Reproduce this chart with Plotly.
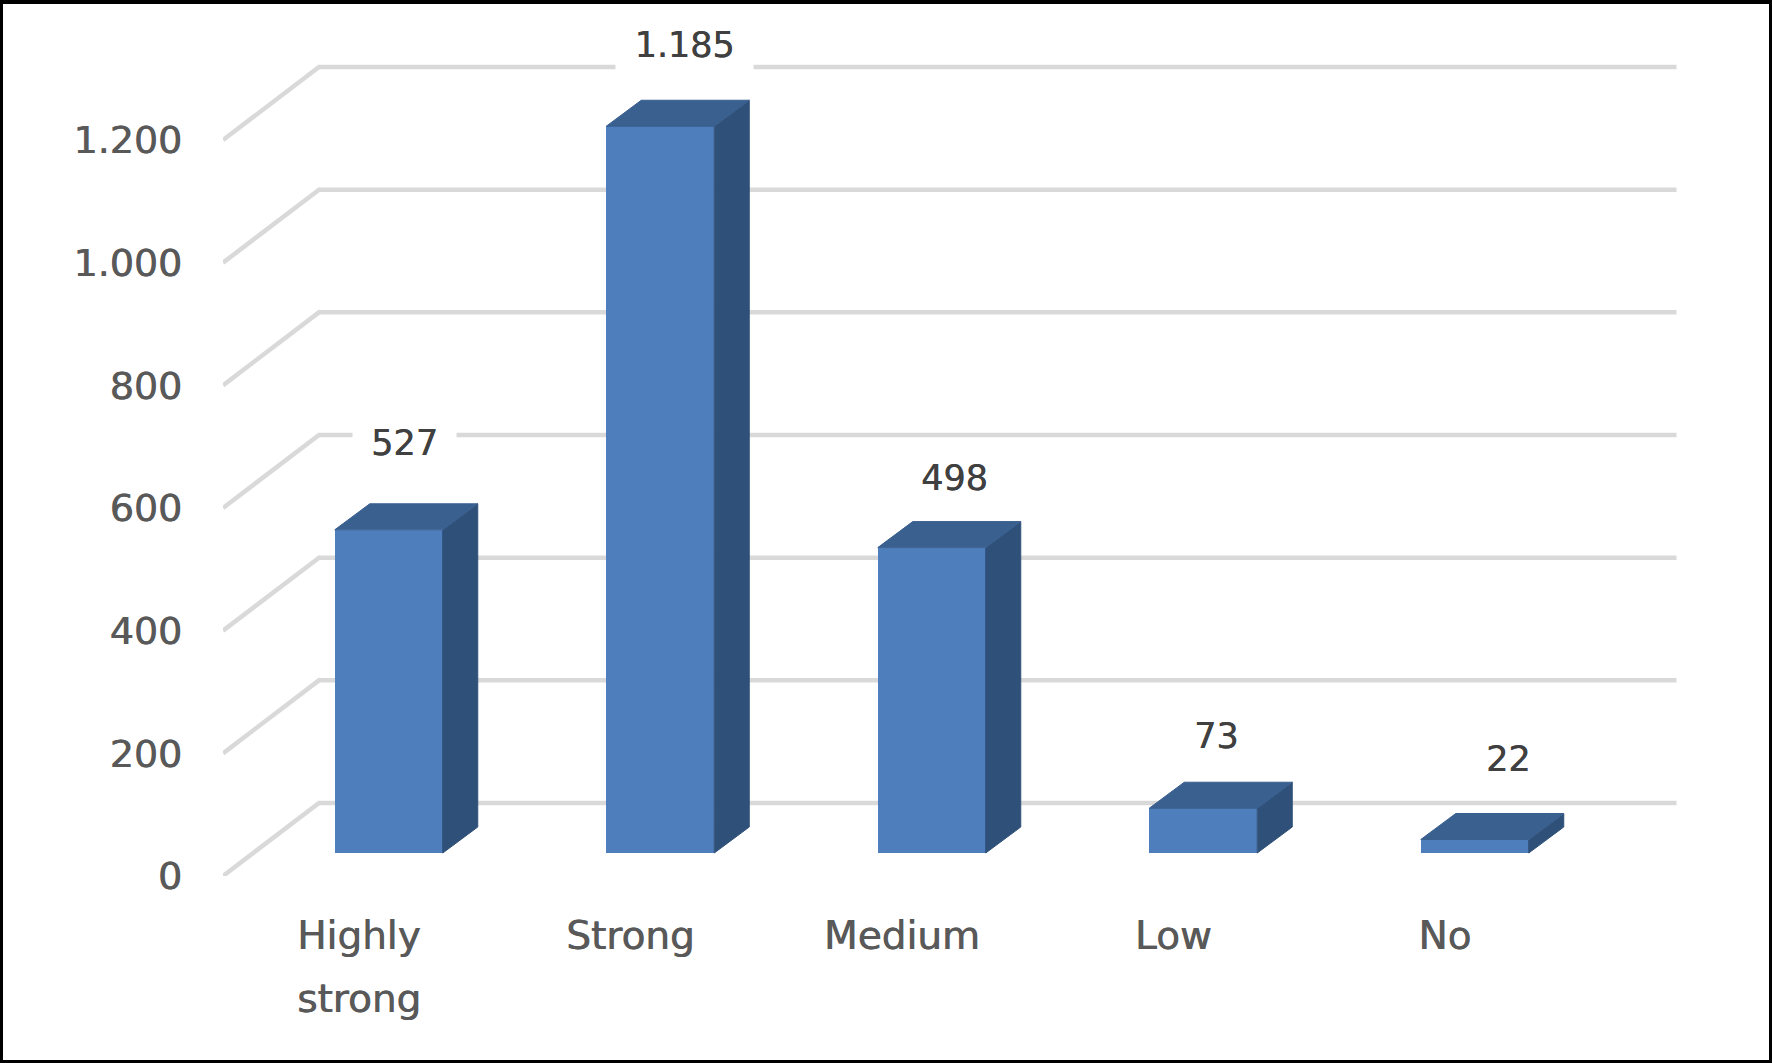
import plotly.graph_objects as go

# data
categories = ["Highly", "Strong", "Medium", "Low", "No"]
second_line = ["strong", "", "", "", ""]
values = [527, 1185, 498, 73, 22]
value_labels = ["527", "1.185", "498", "73", "22"]
y_ticks = [0, 200, 400, 600, 800, 1000, 1200]
y_tick_labels = ["0", "200", "400", "600", "800", "1.000", "1.200"]

# layout geometry, in pixels
W, H = 1772, 1063
left, floor, right, top = 223, 876, 1700, 6
px_x = 271.5      # pixels per category
px_y = 0.6133     # pixels per value unit
wall_px = (96, 73)
bar_front_px = (30, 23)
bar_depth_px = (35, 26)
bar_w_px = 108
label_dx_px = [16, 24, 23, 13, 34]
label_up_px = [87, 81, 70, 72, 81]
label_box_w = [101, 135, 0, 0, 0]

# colours
C_FRONT, C_TOP, C_SIDE = "#4E7EBB", "#3A6090", "#2F5078"
C_GRID, C_TICK, C_LABEL = "#D9D9D9", "#595959", "#404040"
FONT = "DejaVu Sans"
FS_Y, FS_X, FS_LABEL = 38, 39, 35
SHADOW_TICK = "0.7px 0 0.6px #595959"
SHADOW_LABEL = "0.5px 0 0.5px #404040"

wx, wy = wall_px[0] / px_x, wall_px[1] / px_y
ox, oy = bar_front_px[0] / px_x, bar_front_px[1] / px_y
dx, dy = bar_depth_px[0] / px_x, bar_depth_px[1] / px_y
bw = bar_w_px / px_x
n = len(categories)

fig = go.Figure()

# 3D wall gridlines, on the main axes so the bars on the overlay cover them
for v in y_ticks:
    fig.add_trace(go.Scatter(
        x=[0, wx, n + wx], y=[v, v + wy, v + wy], mode="lines",
        line=dict(color=C_GRID, width=4.5), hoverinfo="skip", showlegend=False))

# front faces through a bar trace, side and top faces as polygons
centers = [i + 0.5 + ox for i in range(n)]
fig.add_trace(go.Bar(
    x=centers, y=values, base=[oy] * n, width=bw, xaxis="x2", yaxis="y2",
    marker=dict(color=C_FRONT, line=dict(width=0)), showlegend=False))

for c, v in zip(centers, values):
    r = c + bw / 2
    l = c - bw / 2
    b0 = oy
    t0 = oy + v
    fig.add_trace(go.Scatter(
        x=[r, r + dx, r + dx, r, r], y=[b0, b0 + dy, t0 + dy, t0, b0],
        xaxis="x2", yaxis="y2",
        mode="lines", fill="toself", fillcolor=C_SIDE,
        line=dict(color=C_SIDE, width=1), hoverinfo="skip", showlegend=False))
    fig.add_trace(go.Scatter(
        x=[l, l + dx, r + dx, r, l], y=[t0, t0 + dy, t0 + dy, t0, t0],
        xaxis="x2", yaxis="y2",
        mode="lines", fill="toself", fillcolor=C_TOP,
        line=dict(color=C_TOP, width=1), hoverinfo="skip", showlegend=False))

# data labels
annotations = []
for i, (c, v, t) in enumerate(zip(centers, values, value_labels)):
    a = dict(x=c + label_dx_px[i] / px_x, y=oy + v, text=t, showarrow=False,
             xref="x", yref="y", yshift=label_up_px[i], xanchor="center", yanchor="middle",
             font=dict(family=FONT, size=FS_LABEL, color=C_LABEL, shadow=SHADOW_LABEL))
    if label_box_w[i]:
        a.update(width=label_box_w[i], height=54, bgcolor="#FFFFFF", align="center")
    annotations.append(a)

# second line of the wrapped category label
for i, t in enumerate(second_line):
    if t:
        annotations.append(dict(
            x=i + 0.5, y=0, text=t, showarrow=False, xref="x", yref="y",
            yshift=-122, xanchor="center", yanchor="middle",
            font=dict(family=FONT, size=FS_X, color=C_TICK, shadow=SHADOW_TICK)))

pw, ph = right - left, floor - top
def fx(p): return (p - left) / pw
def fy(p): return (floor - p) / ph

# picture frame
shapes = []
for x0, y0, x1, y1 in [(0, 0, W, 4), (0, H - 3, W, H), (0, 0, 3, H), (W - 3, 0, W, H)]:
    shapes.append(dict(type="rect", xref="paper", yref="paper", layer="above",
                       x0=fx(x0), x1=fx(x1), y0=fy(y0), y1=fy(y1),
                       fillcolor="#000000", line=dict(width=0)))

x_range = [0, pw / px_x]
y_range = [0, ph / px_y]
fig.update_layout(
    width=W, height=H, autosize=False,
    margin=dict(l=left, r=W - right, t=top, b=H - floor, pad=0),
    paper_bgcolor="#FFFFFF", plot_bgcolor="#FFFFFF",
    showlegend=False, bargap=0, annotations=annotations, shapes=shapes,
    font=dict(family=FONT, size=FS_Y, color=C_TICK),
    xaxis=dict(range=x_range, tickvals=[i + 0.5 for i in range(n)], ticktext=categories,
               showgrid=False, zeroline=False, showline=False, ticks="",
               ticklabelstandoff=33,
               tickfont=dict(family=FONT, size=FS_X, color=C_TICK, shadow=SHADOW_TICK)),
    yaxis=dict(range=y_range, tickvals=y_ticks, ticktext=y_tick_labels,
               showgrid=False, zeroline=False, showline=False, ticks="",
               ticklabelstandoff=40,
               tickfont=dict(family=FONT, size=FS_Y, color=C_TICK, shadow=SHADOW_TICK)),
    xaxis2=dict(range=x_range, overlaying="x", visible=False),
    yaxis2=dict(range=y_range, overlaying="y", visible=False),
)

fig.write_html("out.html", config=dict(displayModeBar=False),
               post_script="document.body.style.margin='0';document.body.style.overflow='hidden';")
